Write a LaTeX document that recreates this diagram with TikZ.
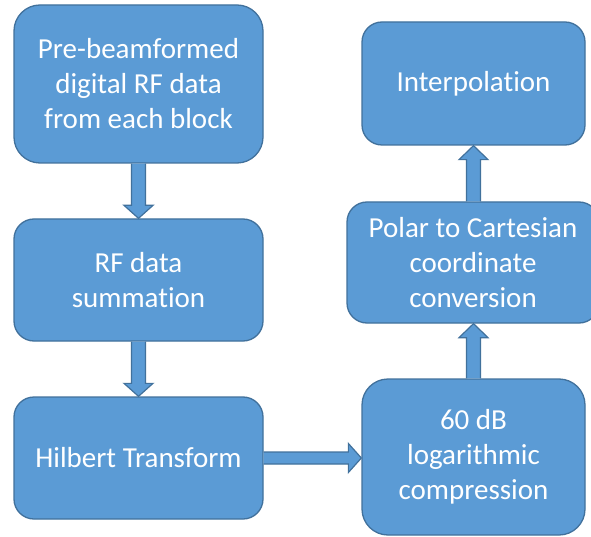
\documentclass[tikz,border=0pt]{standalone}
\usepackage{fontspec}
\setmainfont{Carlito}[Ligatures=CommonOff]
\usetikzlibrary{calc}
\definecolor{boxfill}{HTML}{5B9BD5}
\definecolor{boxline}{HTML}{41719C}
\begin{document}
\begin{tikzpicture}[x=1pt,y=-1pt,
  blk/.style={draw=boxline, fill=boxfill, line width=1.3pt, rounded corners=#1,
    text=white, align=center, font=\fontsize{29}{35}\selectfont, inner sep=0pt},
  barrow/.style={draw=boxline, fill=boxfill, line width=1.2pt, line join=miter}]
\useasboundingbox (0,0) rectangle (591,537);
\clip (0,0) rectangle (591,537);
\path[fill=white] (0,0) rectangle (591,537);

\node[blk=26pt, minimum width=249pt, minimum height=158pt] (b1) at (138.5,84)
  {Pre-beamformed\\digital RF data\\from each block};
\node[blk=20pt, minimum width=249pt, minimum height=122pt] (b2) at (138.5,280)
  {RF data\\summation};
\node[blk=20pt, minimum width=249pt, minimum height=122pt] (b3) at (138.5,458)
  {Hilbert Transform};
\node[blk=26pt, minimum width=223pt, minimum height=156pt] (b4) at (473.5,457)
  {60 dB\\logarithmic\\compression};
\node[blk=20pt, minimum width=252pt, minimum height=121pt] (b5) at (473,262.5)
  {Polar to Cartesian\\coordinate\\conversion};
\node[blk=20pt, minimum width=223pt, minimum height=123pt] (b6) at (473.5,83.5)
  {Interpolation};

% down arrows
\draw[barrow] ($(b1.south)+(-7,0)$) -- ($(b2.north)+(-7,-13)$) -- ($(b2.north)+(-14.5,-13)$)
  -- (b2.north) -- ($(b2.north)+(14.5,-13)$) -- ($(b2.north)+(7,-13)$) -- ($(b1.south)+(7,0)$);
\draw[barrow] ($(b2.south)+(-7,0)$) -- ($(b3.north)+(-7,-13)$) -- ($(b3.north)+(-14.5,-13)$)
  -- (b3.north) -- ($(b3.north)+(14.5,-13)$) -- ($(b3.north)+(7,-13)$) -- ($(b2.south)+(7,0)$);
% right arrow
\coordinate (h) at (b3.east -| b4.west);
\draw[barrow] ($(b3.east)+(0,-6)$) -- ($(h)+(-13,-6)$) -- ($(h)+(-13,-14.5)$)
  -- (h) -- ($(h)+(-13,14.5)$) -- ($(h)+(-13,6)$) -- ($(b3.east)+(0,6)$);
% up arrows
\coordinate (u1) at (b4.north |- b5.south);
\draw[barrow] ($(b4.north)+(-7,0)$) -- ($(u1)+(-7,14)$) -- ($(u1)+(-14.5,14)$)
  -- (u1) -- ($(u1)+(14.5,14)$) -- ($(u1)+(7,14)$) -- ($(b4.north)+(7,0)$);
\coordinate (u2) at (b6.south);
\coordinate (u2s) at (b6.south |- b5.north);
\draw[barrow] ($(u2s)+(-7,0)$) -- ($(u2)+(-7,14)$) -- ($(u2)+(-14.5,14)$)
  -- (u2) -- ($(u2)+(14.5,14)$) -- ($(u2)+(7,14)$) -- ($(u2s)+(7,0)$);
\end{tikzpicture}
\end{document}
